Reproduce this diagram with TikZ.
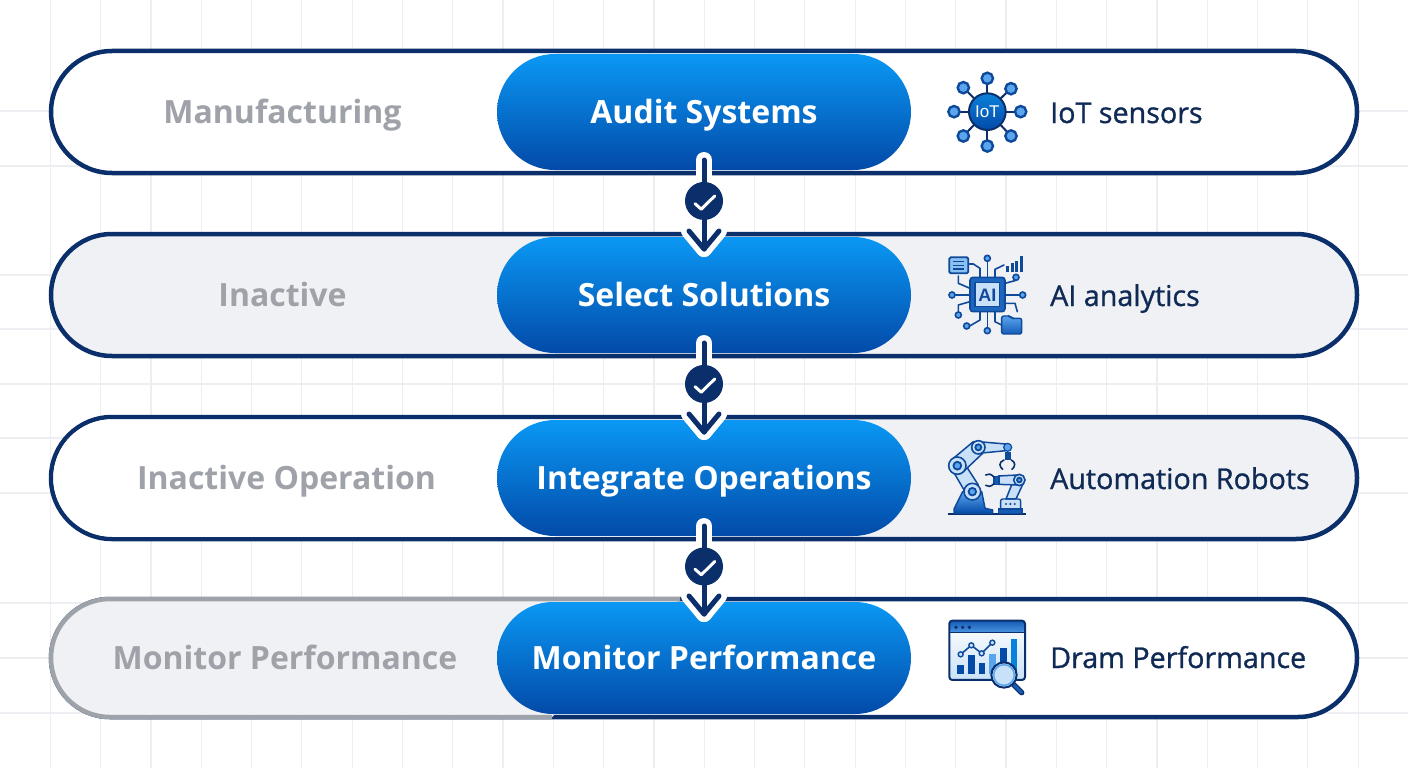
\documentclass[tikz,border=0pt]{standalone}
\usepackage{fontspec}
\setmainfont{Liberation Sans}
\newfontfamily\medfont{Open Sans}
\newfontfamily\regfont[FakeBold=1]{Open Sans}
\usetikzlibrary{calc,shapes.misc}
\definecolor{navy}{HTML}{0B2F6B}
\definecolor{midnavy}{HTML}{0F4A9A}
\definecolor{rowgray}{HTML}{F0F1F4}
\definecolor{edgegray}{HTML}{9EA2A9}
\definecolor{txtgray}{HTML}{9FA2A8}
\definecolor{gridc}{HTML}{ECEEF2}
\definecolor{bluetop}{HTML}{0A98F4}
\definecolor{bluemid}{HTML}{0570D8}
\definecolor{bluebot}{HTML}{034AA8}
\definecolor{lite}{HTML}{C9E1F8}
\definecolor{skyb}{HTML}{5AA5EE}
\definecolor{rightc}{HTML}{0F2A55}
\tikzset{
  rowpill/.style={rounded rectangle,draw=navy,line width=4.5pt,minimum width=1306pt,inner sep=0pt,outer sep=0pt},
  stagepill/.style={rounded rectangle,top color=bluetop,middle color=bluemid,bottom color=bluebot,minimum width=414pt,inner sep=0pt,outer sep=0pt,text=white,
     font=\fontsize{32}{34}\medfont\bfseries,text height=23pt,text depth=0pt},
  lefttext/.style={text=txtgray,font=\fontsize{32}{34}\medfont\bfseries,text height=23pt,text depth=0pt,inner sep=0pt},
  righttext/.style={text=rightc,anchor=west,font=\fontsize{28.7}{30}\regfont,text height=20pt,text depth=0pt,inner sep=0pt},
  checkdot/.style={circle,fill=navy,minimum size=38pt,inner sep=0pt,outer sep=0pt},
  halo/.style={draw=white,line width=16pt,line cap=round,line join=round},
  shaft/.style={draw=navy,line width=5pt,line cap=round,line join=round},
  tick/.style={draw=white,line width=3pt,line cap=round,line join=round},
  iline/.style={draw=midnavy,line width=1.6pt,line cap=round,line join=round},
  idark/.style={draw=navy,line width=1.6pt,line cap=round,line join=round},
}
\newcommand{\linkstage}[3]{%
  \coordinate (s#3) at ($(#1.south)+(0,-10)$);
  \coordinate (t#3) at ($(#2.north)+(0,12)$);
  \path[halo] (s#3) -- (t#3);
  \path[halo] ($(t#3)+(-15,-18)$) -- (t#3) -- ($(t#3)+(15,-18)$);
  \path[shaft] (s#3) -- (t#3);
  \path[shaft] ($(t#3)+(-15,-18)$) -- (t#3) -- ($(t#3)+(15,-18)$);
  \node[checkdot] (c#3) at ($(s#3)!0.46!(t#3)$) {};
  \path[tick] ($(c#3)+(-9,2.7)$) -- ($(c#3)+(-2.7,8.3)$) -- ($(c#3)+(10.7,-5)$);
}
\begin{document}
\begin{tikzpicture}[x=1pt,y=-1pt]
\useasboundingbox (0,0) rectangle (1408,768);
\fill[white!99!gridc] (0,0) rectangle (1408,768);
% grid
\foreach \i in {1,...,27} {\draw[gridc,line width=1.2pt] ({50.3*\i},0) -- ({50.3*\i},768);}
\foreach \y in {111,166,275,329,384,438,493,603,658,713} {\draw[gridc,line width=1.2pt] (0,\y) -- (1408,\y);}
% rows
\node[rowpill,fill=white,minimum height=122pt] (r1) at (704,112) {};
\node[rowpill,fill=rowgray,minimum height=122pt] (r2) at (704,295) {};
\node[rowpill,fill=rowgray,minimum height=122pt] (r3) at (704,478) {};
\node[rowpill,fill=white,minimum height=118pt] (r4) at (704,658) {};
% row 3 white left part
\fill[white] (700,419.25) -- (112,419.25) arc[start angle=270,end angle=90,radius=58.75] -- (700,536.75) -- cycle;
% row 4 gray left part
\coordinate (gt) at (680,599);
\coordinate (gb) at (552,717);
\fill[rowgray] (gt) -- (110,599) arc[start angle=270,end angle=90,radius=59] -- (gb) -- cycle;
\draw[edgegray,line width=4.5pt] (gt) -- (110,599) arc[start angle=270,end angle=90,radius=59] -- (gb);
% stage pills
\node[stagepill,minimum height=116pt] (b1) at (704,112) {Audit Systems};
\node[stagepill,minimum height=116pt] (b2) at (704,295) {Select Solutions};
\node[stagepill,minimum height=116pt] (b3) at (704,478) {Integrate Operations};
\node[stagepill,minimum height=112pt] (b4) at (704,658) {Monitor Performance};
% connectors
\linkstage{b1}{b2}{1}
\linkstage{b2}{b3}{2}
\linkstage{b3}{b4}{3}
% left labels
\node[lefttext] (l1) at (282.5,112) {Manufacturing};
\node[lefttext] (l2) at (282.5,295) {Inactive};
\node[lefttext] (l3) at (286.5,478) {Inactive Operation};
\node[lefttext] (l4) at (285,658) {Monitor Performance};
% right labels
\node[righttext] (t1) at (1050,113) {IoT sensors};
\node[righttext] (t2) at (1050,296) {AI analytics};
\node[righttext] (t3) at (1050,479) {Automation Robots};
\node[righttext] (t4) at (1050,658) {Dram Performance};
% IoT icon
\begin{scope}[shift={(930,50)},scale=0.3333]
 \foreach \a/\b/\c/\d in {172/85/172/130,100/113/132/145,243/116/212/145,72/185/117/185,272/185/227/185,100/258/132/225,243/258/212/225,172/288/172/240}{
   \draw[idark,line width=2pt] (\a,\b) -- (\c,\d);
   \draw[midnavy,line width=2.4pt,fill=skyb] (\a,\b) circle (17);
 }
 \shade[top color=bluetop!70!midnavy,bottom color=bluebot] (172,185) circle (55);
 \draw[navy,line width=2pt] (172,185) circle (55);
 \node[text=white,font=\fontsize{17}{18}\selectfont,inner sep=0pt] (iot) at (172,185) {IoT};
\end{scope}
% AI icon
\begin{scope}[shift={(930,240)},scale=0.3333]
 \foreach \p in {(172,55),(258,112),(278,165),(66,165),(85,225),(110,258),(172,272)} {\draw[midnavy,line width=1.6pt,fill=skyb] \p circle (9);}
 \draw[iline] (172,64) -- (172,112);
 \draw[iline] (150,112) -- (150,85) -- (130,72) -- (118,72);
 \draw[iline] (195,112) -- (195,88) -- (222,75);
 \draw[iline] (85,108) -- (85,130) -- (120,145);
 \draw[iline] (225,130) -- (258,121);
 \draw[iline] (225,165) -- (269,165);
 \draw[iline] (75,165) -- (120,165);
 \draw[iline] (85,216) -- (85,195) -- (120,185);
 \draw[iline] (119,258) -- (150,240) -- (150,215);
 \draw[iline] (172,263) -- (172,215);
 \draw[iline] (195,215) -- (195,245) -- (215,255);
 \draw[iline] (225,190) -- (255,190) -- (262,215);
 \draw[midnavy,line width=1.8pt,fill=skyb!70!white,rounded corners=1.5pt] (58,52) rectangle (115,100);
 \foreach \y in {65,76,87} {\draw[midnavy,line width=1.4pt] (70,\y) -- (103,\y);}
 \foreach \a/\b in {228/78,243/70,256/62,270/48} {\fill[midnavy] (\a,\b) rectangle (\a+9,95);}
 \fill[bluebot!70!skyb,draw=midnavy,line width=1.6pt,rounded corners=3pt] (120,112) rectangle (225,215);
 \fill[lite,draw=midnavy,line width=1.2pt] (135,128) rectangle (208,200);
 \node[text=midnavy,font=\fontsize{18}{18}\selectfont\bfseries,inner sep=0pt] (ai) at (172,165) {AI};
 \shade[top color=skyb,bottom color=bluebot!80!skyb,rounded corners=2pt] (215,228) -- (240,228) -- (245,235) -- (275,235) -- (275,282) -- (215,282) -- cycle;
 \draw[midnavy,line width=1.4pt,rounded corners=2pt] (215,228) -- (240,228) -- (245,235) -- (275,235) -- (275,282) -- (215,282) -- cycle;
\end{scope}
% Robot icon
\begin{scope}[shift={(930,425)},scale=0.3333]
 \draw[navy,line width=2pt] (55,268) -- (288,268);
 \shade[top color=skyb,bottom color=bluebot] (72,265) -- (72,252) -- (98,200) -- (155,200) -- (165,250) -- (188,255) -- (188,265) -- cycle;
 \draw[midnavy,line width=1.5pt,line join=round] (72,265) -- (72,252) -- (98,200) -- (155,200) -- (165,250) -- (188,255) -- (188,265) -- cycle;
 \draw[midnavy,line width=1.5pt,fill=lite,line join=round] (70,140) -- (108,205) -- (145,180) -- (100,110) -- cycle;
 \draw[midnavy,line width=1.5pt,fill=lite,line join=round] (70,100) -- (130,50) -- (158,85) -- (100,140) -- cycle;
 \draw[midnavy,line width=1.5pt,fill=lite,line join=round] (145,50) -- (228,57) -- (228,77) -- (145,85) -- cycle;
 \foreach \x/\y/\r in {127/200/25,82/122/26,145/67/20} {
   \draw[midnavy,line width=1.6pt,fill=lite] (\x,\y) circle (\r);
   \draw[midnavy,line width=1.8pt,fill=skyb] (\x,\y) circle (0.45*\r);
 }
 \fill[skyb,draw=midnavy,line width=1.2pt] (233,67) circle (12);
 \fill[midnavy] (224,80) rectangle (242,105);
 \draw[navy,line width=1.6pt,line cap=round] (222,105) .. controls (205,112) and (208,125) .. (218,133);
 \draw[navy,line width=1.6pt,line cap=round] (244,105) .. controls (258,112) and (256,125) .. (246,133);
 \draw[midnavy,line width=1.4pt,fill=lite,rounded corners=2pt] (212,222) rectangle (272,255);
 \foreach \x in {228,241,254} {\fill[midnavy] (\x,237) circle (3.5);}
 \fill[bluebot!80!skyb,draw=midnavy,line width=1.2pt] (206,252) rectangle (276,266);
 \draw[midnavy,line width=1.5pt,fill=lite,line join=round] (228,222) -- (255,155) -- (282,170) -- (258,222) -- cycle;
 \draw[midnavy,line width=1.5pt,fill=lite,line join=round] (205,153) -- (262,150) -- (262,180) -- (205,178) -- cycle;
 \fill[bluebot!80!skyb,draw=midnavy,line width=1.2pt] (192,154) rectangle (207,178);
 \draw[midnavy,line width=1.6pt,fill=lite] (268,165) circle (17);
 \draw[midnavy,line width=1.8pt,fill=skyb] (268,165) circle (7);
 \draw[navy,line width=1.6pt,line cap=round] (192,156) .. controls (182,146) and (175,145) .. (167,150);
 \draw[navy,line width=1.6pt,line cap=round] (192,176) .. controls (182,186) and (175,186) .. (167,181);
\end{scope}
% Dashboard icon
\begin{scope}[shift={(930,605)},scale=0.3333]
 \shade[top color=white,bottom color=lite,rounded corners=3pt] (58,47) rectangle (285,225);
 \shade[top color=bluebot!80!skyb,bottom color=skyb!80!bluebot,rounded corners=3pt] (58,47) rectangle (285,82);
 \draw[navy,line width=2pt,rounded corners=3pt] (58,47) rectangle (285,225);
 \draw[navy,line width=1.4pt] (58,82) -- (285,82);
 \foreach \x in {78,98,118} {\fill[navy] (\x,67) circle (5.5);}
 \foreach \x/\y/\c in {82/180/bluebot,114/150/bluebot,146/175/bluebot,178/147/skyb,210/130/bluebot,242/102/bluetop!70!bluebot} {\fill[\c] (\x,\y) rectangle (\x+20,207);}
 \draw[midnavy,line width=1.6pt] (92,148) -- (124,121) -- (155,145) -- (187,113);
 \foreach \x/\y in {92/148,124/121,155/145,187/113} {\draw[midnavy,line width=1.4pt,fill=lite] (\x,\y) circle (7.5);}
 \draw[navy,line width=5.5pt,line cap=round] (250,238) -- (275,263);
 \draw[bluebot!80!skyb,line width=3pt,line cap=round] (250,238) -- (275,263);
 \draw[navy,line width=2pt,fill=lite] (222,210) circle (38);
 \draw[skyb,line width=1.5pt] (222,210) circle (31);
\end{scope}
\end{tikzpicture}
\end{document}
